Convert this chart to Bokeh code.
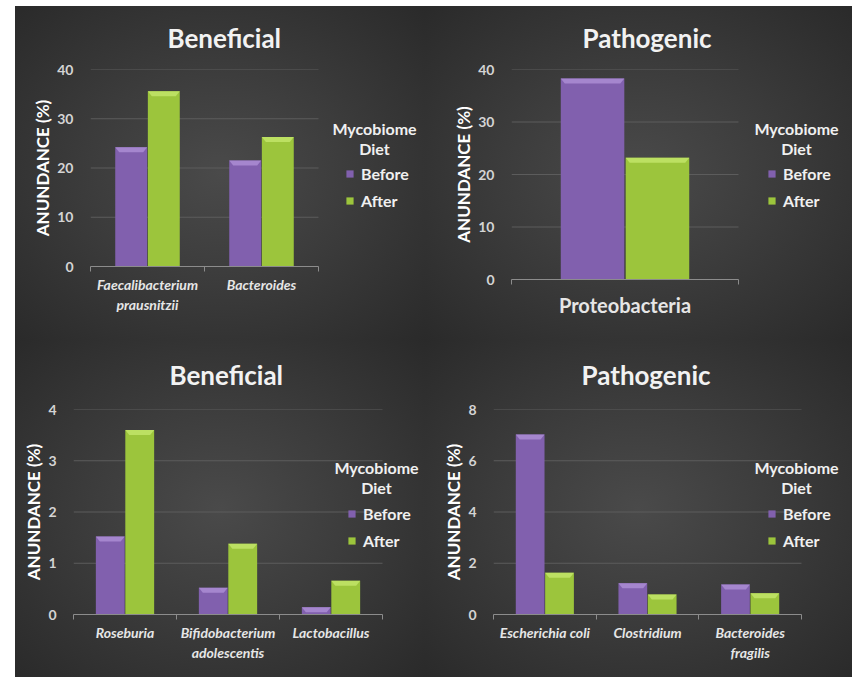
from bokeh.plotting import figure
from bokeh.models import Range1d, FixedTicker, Legend, LegendItem, Label
from bokeh.layouts import column, row
from bokeh.embed import file_html
from bokeh.resources import INLINE

# ---- data -------------------------------------------------------------
series = ["Before", "After"]
legend_title = ["Mycobiome", "Diet"]
y_label = "ANUNDANCE (%)"

beneficial_major_taxa = ["Faecalibacterium\nprausnitzii", "Bacteroides"]
beneficial_major_before = [24.2, 21.5]
beneficial_major_after = [35.6, 26.3]

pathogenic_major_taxa = ["Proteobacteria"]
pathogenic_major_before = [38.3]
pathogenic_major_after = [23.2]

beneficial_minor_taxa = ["Roseburia", "Bifidobacterium\nadolescentis", "Lactobacillus"]
beneficial_minor_before = [1.52, 0.52, 0.14]
beneficial_minor_after = [3.60, 1.38, 0.66]

pathogenic_minor_taxa = ["Escherichia coli", "Clostridium", "Bacteroides\nfragilis"]
pathogenic_minor_before = [7.02, 1.22, 1.17]
pathogenic_minor_after = [1.63, 0.78, 0.83]

# ---- styling ----------------------------------------------------------
FONT = "Lato"
PURPLE = "#8160ae"
PURPLE_HI = "#a88bd2"
GREEN = "#9cc53c"
GREEN_HI = "#c0e266"
GRID = "#5c5c5c"
AXIS = "#8c8c8c"
BG = ("radial-gradient(ellipse at 50% 50%, #4a4a4a 0%, #3c3c3c 45%, "
      "#2a2a2a 100%)")


def make_panel(title, taxa, before, after, ymax, ystep, width, height,
               left, top, bottom, area_w, title_offset, title_standoff,
               legend_xy, heading_xy, italic=True, cat_size="14px",
               cat_standoff=3):
    """One bar panel.  The frame runs to the right edge of the panel so the
    legend can sit beside (and partly over) the bars; the axis line and the
    grid lines only span the category slots."""
    right = 2
    fw = width - left - right
    fh = height - top - bottom
    n = len(taxa)
    x_end = n * fw / area_w

    p = figure(width=width, height=height,
               x_range=Range1d(0, x_end), y_range=Range1d(0, ymax),
               output_backend="svg", toolbar_location=None,
               min_border_left=left, min_border_right=right,
               min_border_top=top, min_border_bottom=bottom,
               background_fill_alpha=0, border_fill_alpha=0,
               outline_line_color=None,
               styles={"background": BG})

    # title
    p.title.text = title
    p.title.text_font = FONT
    p.title.text_font_size = "26px"
    p.title.text_font_style = "bold"
    p.title.text_color = "#f2f2f2"
    p.title.align = "left"
    p.title.vertical_align = "top"
    p.title.offset = title_offset
    p.title.standoff = title_standoff

    p.xgrid.grid_line_color = None
    p.ygrid.grid_line_color = None

    # horizontal grid lines across the category slots only
    yticks = list(range(0, ymax + 1, ystep))
    grid_y = yticks[1:]
    p.segment(x0=[0] * len(grid_y), x1=[n] * len(grid_y),
              y0=grid_y, y1=grid_y, line_color=GRID, line_width=1)

    # bars: two series side by side within each category slot
    bar_w = 0.28
    shift = 0.143
    centers = [i + 0.5 for i in range(n)]
    xb = [c - shift for c in centers]
    xa = [c + shift for c in centers]
    rb = p.vbar(x=xb, top=before, width=bar_w, bottom=0,
                fill_color=PURPLE, line_color=None)
    ra = p.vbar(x=xa, top=after, width=bar_w, bottom=0,
                fill_color=GREEN, line_color=None)

    # bevelled top edge, a few pixels tall
    dh = 5.0 * ymax / fh
    inset = 4.0 * n / area_w
    for xs, vals, hi in ((xb, before, PURPLE_HI), (xa, after, GREEN_HI)):
        px, py = [], []
        for x, v in zip(xs, vals):
            h = min(dh, v)
            px.append([x - bar_w / 2, x + bar_w / 2,
                       x + bar_w / 2 - inset, x - bar_w / 2 + inset])
            py.append([v, v, v - h, v - h])
        p.patches(px, py, fill_color=hi, line_color=None, fill_alpha=0.9)

    # y axis
    yaxis = p.yaxis[0]
    yaxis.ticker = FixedTicker(ticks=yticks)
    yaxis.axis_line_color = None
    yaxis.major_tick_line_color = None
    yaxis.minor_tick_line_color = None
    yaxis.major_label_text_font = FONT
    yaxis.major_label_text_font_style = "bold"
    yaxis.major_label_text_font_size = "14px"
    yaxis.major_label_text_color = "#d4d4d4"
    yaxis.major_label_standoff = 11
    yaxis.axis_label = y_label
    yaxis.axis_label_text_font = FONT
    yaxis.axis_label_text_font_style = "bold"
    yaxis.axis_label_text_font_size = "17px"
    yaxis.axis_label_text_color = "#ffffff"
    yaxis.axis_label_standoff = 1

    # x axis: labels at slot centres, short ticks at slot boundaries
    xaxis = p.xaxis[0]
    xaxis.bounds = (0, n)
    xaxis.ticker = FixedTicker(ticks=centers, minor_ticks=list(range(n + 1)))
    xaxis.major_label_overrides = {c: t for c, t in zip(centers, taxa)}
    xaxis.axis_line_color = AXIS
    xaxis.major_tick_line_color = None
    xaxis.minor_tick_line_color = AXIS
    xaxis.minor_tick_out = 5
    xaxis.minor_tick_in = 0
    xaxis.major_label_text_font = FONT
    xaxis.major_label_text_font_style = "bold italic" if italic else "bold"
    xaxis.major_label_text_font_size = cat_size
    xaxis.major_label_text_color = "#e6e6e6"
    xaxis.major_label_standoff = cat_standoff

    # legend: (x of swatch, y of last item centre) from panel top-left
    frame_bottom = height - bottom
    lx, ly = legend_xy
    legend = Legend(
        items=[LegendItem(label=series[0], renderers=[rb]),
               LegendItem(label=series[1], renderers=[ra])],
        background_fill_alpha=0, border_line_color=None,
        label_text_font=FONT, label_text_font_style="bold",
        label_text_font_size="16px", label_text_color="#f0f0f0",
        glyph_width=9, glyph_height=9, label_standoff=7,
        label_height=20, spacing=7, padding=0, margin=0,
        location=(lx - left, frame_bottom - (ly + 10)),
    )
    p.add_layout(legend, "center")

    hx, hy = heading_xy
    for k, line in enumerate(legend_title):
        p.add_layout(Label(x=hx - left, y=frame_bottom - (hy + 20 * k),
                           x_units="screen", y_units="screen",
                           text=line, text_align="center",
                           text_baseline="middle", text_font=FONT,
                           text_font_style="bold", text_font_size="16px",
                           text_color="#f0f0f0"))
    return p


p1 = make_panel("Beneficial", beneficial_major_taxa, beneficial_major_before,
                beneficial_major_after, 40, 10, 410, 334,
                left=75, top=63, bottom=74, area_w=228,
                title_offset=77, title_standoff=28,
                legend_xy=(330, 194), heading_xy=(359, 122))
p2 = make_panel("Pathogenic", pathogenic_major_taxa, pathogenic_major_before,
                pathogenic_major_after, 40, 10, 427, 334,
                left=86, top=63, bottom=61, area_w=227,
                title_offset=71, title_standoff=28,
                legend_xy=(342, 194), heading_xy=(371, 122),
                italic=False, cat_size="20px", cat_standoff=7)
p3 = make_panel("Beneficial", beneficial_minor_taxa, beneficial_minor_before,
                beneficial_minor_after, 4, 1, 410, 337,
                left=58, top=69, bottom=63, area_w=309,
                title_offset=96, title_standoff=34,
                legend_xy=(332, 200), heading_xy=(361, 127))
p4 = make_panel("Pathogenic", pathogenic_minor_taxa, pathogenic_minor_before,
                pathogenic_minor_after, 8, 2, 427, 337,
                left=68, top=69, bottom=63, area_w=308,
                title_offset=88, title_standoff=34,
                legend_xy=(342, 200), heading_xy=(371, 127))

# each panel sits in its own box so the panels keep their own frame sizes
layout = column(row(column(p1), column(p2)), row(column(p3), column(p4)),
                margin=(6, 0, 0, 15))

with open("out.html", "w") as f:
    f.write(file_html(layout, INLINE))
